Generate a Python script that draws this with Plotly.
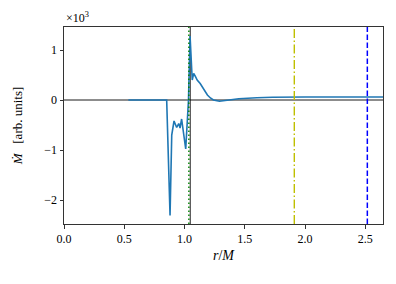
import plotly.graph_objects as go

# r/M grid and mass accretion rate (in units of 10^3, arb. units)
r_vals = [0.534, 0.60, 0.70, 0.80, 0.852, 0.880, 0.894, 0.913, 0.935, 0.952, 0.963, 0.976,
          0.995, 1.010, 1.033, 1.046, 1.064, 1.076, 1.088, 1.105, 1.13, 1.16, 1.19, 1.215,
          1.24, 1.29, 1.35, 1.45, 1.60, 1.73, 2.00, 2.30, 2.65]
mdot_vals = [0.0, 0.0, 0.0, 0.0, 0.0, -2.31, -0.70, -0.42, -0.55, -0.47, -0.56, -0.38,
             -0.70, -0.98, 0.0, 1.28, 0.40, 0.53, 0.48, 0.40, 0.33, 0.20, 0.10, 0.04,
             0.0, -0.025, -0.01, 0.025, 0.045, 0.055, 0.06, 0.06, 0.06]

# characteristic radii (vertical markers)
r_gray = 1.048
r_green = 1.036
r_yellow = 1.911
r_blue = 2.517

x_ticks = [0.0, 0.5, 1.0, 1.5, 2.0, 2.5]
y_ticks = [-2, -1, 0, 1]
x_range = [0.0, 2.647]
y_range = [-2.48, 1.46]

FONT = "Liberation Serif, Times New Roman, DejaVu Serif, serif"

fig = go.Figure()

fig.add_trace(go.Scatter(x=r_vals, y=mdot_vals, mode="lines",
                         line=dict(color="#1f77b4", width=1.6), showlegend=False,
                         hoverinfo="skip"))

def vline(xv, color, dash, width=1.4):
    fig.add_trace(go.Scatter(x=[xv, xv], y=[y_range[0], y_range[1]], mode="lines",
                             line=dict(color=color, width=width, dash=dash),
                             showlegend=False, hoverinfo="skip"))

vline(r_green, "#008000", "1.5px,2.5px", 1.4)
vline(r_yellow, "#bfbf00", "9px,2.5px,1.5px,2.5px", 1.4)
vline(r_blue, "#0000ff", "5.5px,2.5px", 1.5)

# gray vertical and zero line drawn below the data
fig.add_shape(type="line", xref="x", yref="paper", x0=r_gray, x1=r_gray, y0=0, y1=1,
              line=dict(color="#555555", width=1.3), layer="below")
fig.add_shape(type="line", xref="paper", yref="y", x0=0, x1=1, y0=0, y1=0,
              line=dict(color="black", width=0.9), layer="below")

fig.add_annotation(xref="paper", yref="paper", x=0.0, y=1.0, xanchor="left", yanchor="bottom",
                   text="×10<sup>3</sup>", showarrow=False, yshift=0,
                   font=dict(family=FONT, size=12, color="black"))

fig.update_layout(
    width=388, height=276,
    margin=dict(l=56, r=13, t=19, b=60),
    plot_bgcolor="white", paper_bgcolor="white",
    font=dict(family=FONT, size=12, color="black"),
    xaxis=dict(range=x_range, tickvals=x_ticks, tickformat=".1f", automargin=False,
               showgrid=False, zeroline=False, showline=True, mirror=True,
               linecolor="#333333", linewidth=1, ticks="outside", ticklen=3.5,
               tickcolor="#333333", tickfont=dict(family=FONT, size=12),
               title=dict(text="<i>r</i>/<i>M</i>", font=dict(family=FONT, size=14), standoff=5)),
    yaxis=dict(range=y_range, tickvals=y_ticks, tickformat="d", automargin=False,
               showgrid=False, zeroline=False, showline=True, mirror=True,
               linecolor="#333333", linewidth=1, ticks="outside", ticklen=3.5,
               tickcolor="#333333", tickfont=dict(family=FONT, size=12),
               title=dict(text="<i>Ṁ</i>   [arb. units]", font=dict(family=FONT, size=13), standoff=18)),
)

fig.write_html("out.html")
